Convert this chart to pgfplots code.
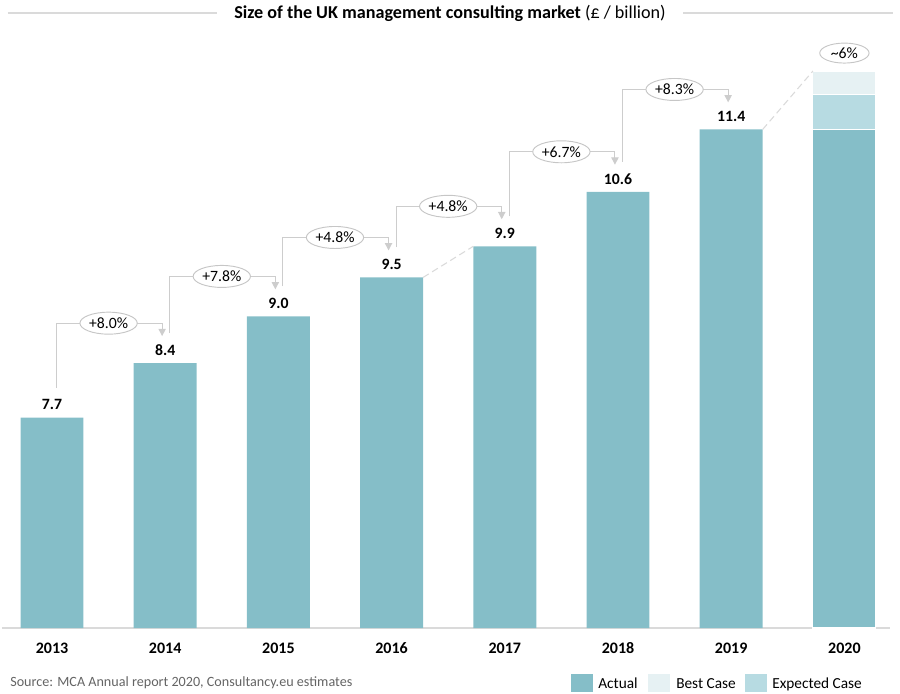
\documentclass[border=0pt]{standalone}
\usepackage{fontspec}
\setmainfont{Carlito}
\usepackage{pgfplots}
\pgfplotsset{compat=1.18}
\usetikzlibrary{arrows.meta,shapes.geometric}
\definecolor{actual}{RGB}{133,190,200}
\definecolor{expected}{RGB}{183,219,226}
\definecolor{best}{RGB}{230,241,243}
\definecolor{conn}{RGB}{205,205,205}
\definecolor{ell}{RGB}{198,198,198}
\definecolor{base}{RGB}{218,218,218}
\newcommand{\conn}[4]{%
  \draw[conn, line width=0.8pt, -{Triangle[width=5.5pt,length=5.5pt]}]
    (axis cs:{#1+0.04},{#2+0.385}) -- (axis cs:{#1+0.04},{#3+0.513})
    -- (axis cs:{#1+0.973},{#3+0.513}) -- (axis cs:{#1+0.973},{#3+0.347});
  \node[ellipse, draw=ell, fill=white, line width=0.7pt, minimum width=43pt, minimum height=16.5pt, inner sep=0pt,
        font=\fontsize{11.8}{13}\selectfont] at (axis cs:{#1+0.5},{#3+0.513}) {#4};
}
\begin{document}
\begin{tikzpicture}
\begin{axis}[
  at={(0,0)}, anchor=south west,
  scale only axis, width=666pt, height=441pt,
  xmin=-0.4417, xmax=7.4028, ymin=5.0, ymax=12.548,
  axis x line=bottom, axis y line=none,
  x axis line style={draw=base, line width=0.8pt, -},
  major tick length=0pt,
  xtick={0,1,2,3,4,5,6,7},
  xticklabels={2013,2014,2015,2016,2017,2018,2019,2020},
  xticklabel style={font=\bfseries\fontsize{12}{14}\selectfont, anchor=base, yshift=-18.75pt, inner sep=0pt},
  ytick=\empty,
  bar width=0.556,
  clip=false,
  /pgf/number format/assume math mode=true,
]
\addplot[ybar, bar shift=0pt, fill=best, draw=white, line width=0.8pt] coordinates {(7,12.15)};
\addplot[ybar, bar shift=0pt, fill=expected, draw=white, line width=0.8pt] coordinates {(7,11.85)};
\addplot[ybar, bar shift=0pt, fill=actual, draw=none,
  point meta=y,
  nodes near coords={\pgfmathprintnumber[fixed,fixed zerofill,precision=1]{\pgfplotspointmeta}},
  every node near coord/.append style={font=\bfseries\fontsize{11.8}{13}\selectfont, anchor=south, inner sep=0pt, yshift=5.5pt, text=black}]
  coordinates {(0,7.7) (1,8.4) (2,9.0) (3,9.5) (4,9.9) (5,10.6) (6,11.4)};
\addplot[ybar, bar shift=0pt, fill=actual, draw=white, line width=0.8pt] coordinates {(7,11.4)};
% dashed connectors
\draw[base, line width=0.8pt, dash pattern=on 5pt off 3pt] (axis cs:3.278,9.5) -- (axis cs:3.722,9.9);
\draw[base, line width=0.8pt, dash pattern=on 5pt off 3pt] (axis cs:6.278,11.4) -- (axis cs:6.722,12.15);
% growth connectors
\conn{0}{7.7}{8.4}{+8.0\%}
\conn{1}{8.4}{9.0}{+7.8\%}
\conn{2}{9.0}{9.5}{+4.8\%}
\conn{3}{9.5}{9.9}{+4.8\%}
\conn{4}{9.9}{10.6}{+6.7\%}
\conn{5}{10.6}{11.4}{+8.3\%}
\node[ellipse, draw=ell, fill=white, line width=0.7pt, minimum width=37pt, minimum height=15pt, inner sep=0pt,
      font=\fontsize{11.8}{13}\selectfont] at (axis cs:7,12.38) {\textasciitilde 6\%};
\end{axis}
\begin{scope}[x=0.75pt,y=-0.75pt,shift={(-1.5pt,471pt)}]
\path[use as bounding box] (0,0) rectangle (900,693);
\node[font=\fontsize{13.6}{15}\selectfont, inner sep=0pt] (title) at (450,13) {\textbf{Size of the UK management consulting market} (£ / billion)};
\draw[base, line width=1.6pt] (8,13) -- ([xshift=-13pt]title.west |- 0,13);
\draw[base, line width=1.6pt] ([xshift=13pt]title.east |- 0,13) -- (893,13);
\node[anchor=base west, inner sep=0pt, text={rgb,255:red,100;green,100;blue,100}, font=\fontsize{10.6}{12}\selectfont] at (10,686) {Source: MCA Annual report 2020, Consultancy.eu estimates};
\fill[actual] (571,674) rectangle (593,692);
\node[anchor=base west, inner sep=0pt, font=\fontsize{11.5}{13}\selectfont] at (598,688) {Actual};
\fill[best] (648,674) rectangle (670,692);
\node[anchor=base west, inner sep=0pt, font=\fontsize{11.5}{13}\selectfont] at (676,688) {Best Case};
\fill[expected] (745,674) rectangle (767,692);
\node[anchor=base west, inner sep=0pt, font=\fontsize{11.5}{13}\selectfont] at (772,688) {Expected Case};
\end{scope}
\end{tikzpicture}
\end{document}
